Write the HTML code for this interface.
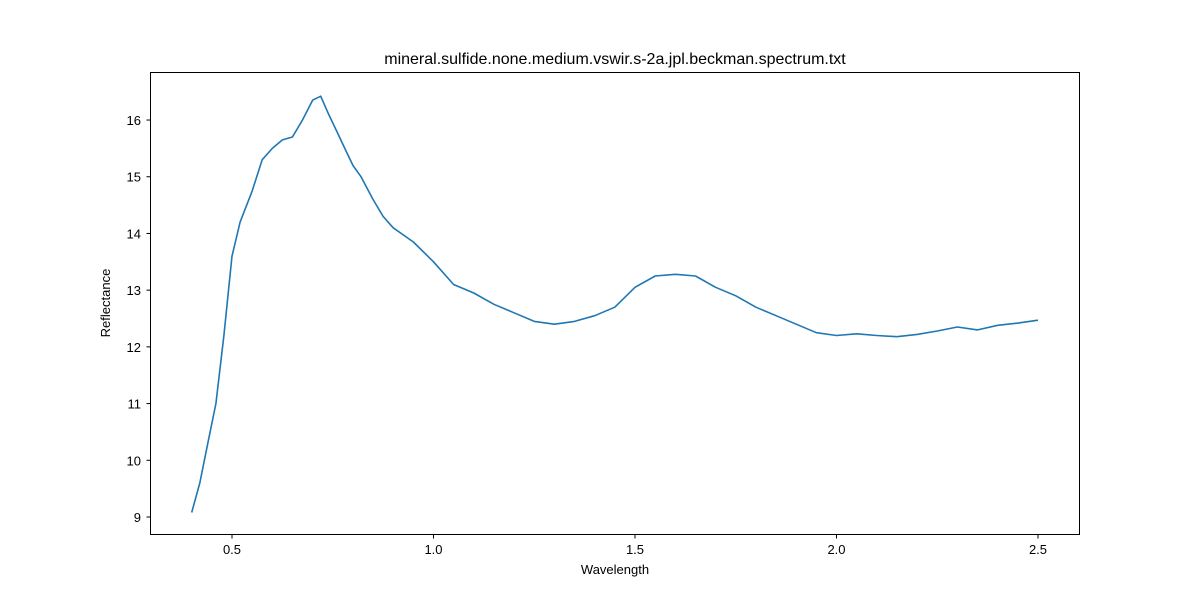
<!DOCTYPE html>
<html><head><meta charset="utf-8"><style>
body{margin:0;background:#fff;}
svg{display:block;font-family:"Liberation Sans","DejaVu Sans",sans-serif;}
</style></head><body>
<svg id="chart" width="1200" height="600">
<rect x="0" y="0" width="1200" height="600" fill="#fff"/>
<text x="615" y="64" text-anchor="middle" font-size="16">mineral.sulfide.none.medium.vswir.s-2a.jpl.beckman.spectrum.txt</text>
<g id="ticks"></g>
<path id="line" fill="none" stroke="#1f77b4" stroke-width="1.6" stroke-linejoin="round"/>
<rect x="150.5" y="72.5" width="929" height="462" fill="none" stroke="#000" stroke-width="1"/>
<text x="615" y="574" text-anchor="middle" font-size="13">Wavelength</text>
<text x="110" y="303" text-anchor="middle" font-size="13" transform="rotate(-90 110 303)">Reflectance</text>
</svg>
<script>
const wavelengths=[0.40,0.42,0.44,0.46,0.48,0.50,0.52,0.55,0.575,0.60,0.625,0.65,0.675,0.70,0.72,0.74,0.76,0.78,0.80,0.82,0.85,0.875,0.90,0.95,1.00,1.05,1.10,1.15,1.20,1.25,1.30,1.35,1.40,1.45,1.50,1.55,1.60,1.65,1.70,1.75,1.80,1.85,1.90,1.95,2.00,2.05,2.10,2.15,2.20,2.25,2.30,2.35,2.40,2.45,2.50];
const reflectance=[9.08,9.6,10.3,11.0,12.2,13.6,14.2,14.75,15.3,15.5,15.65,15.7,16.0,16.35,16.42,16.1,15.8,15.5,15.2,15.0,14.6,14.3,14.1,13.85,13.5,13.1,12.95,12.75,12.6,12.45,12.4,12.45,12.55,12.7,13.05,13.25,13.28,13.25,13.05,12.9,12.7,12.55,12.4,12.25,12.2,12.23,12.2,12.18,12.22,12.28,12.35,12.3,12.38,12.42,12.47];
const xTicks=[0.5,1.0,1.5,2.0,2.5];
const xTickLabels=["0.5","1.0","1.5","2.0","2.5"];
const yTicks=[9,10,11,12,13,14,15,16];
const yTickLabels=["9","10","11","12","13","14","15","16"];
function xs(v){return 232+(v-0.5)*403;}
function ys(v){return 517-(v-9)*56.71;}
const NS="http://www.w3.org/2000/svg";
const g=document.getElementById('ticks');
function mk(t,a){const e=document.createElementNS(NS,t);for(const k in a)e.setAttribute(k,a[k]);return e;}
xTicks.forEach((v,i)=>{
 const x=xs(v);
 const l=mk('line',{x1:x,x2:x,y1:534.5,y2:538.5,stroke:'#000'});
 
 
 g.appendChild(l);
 const t=mk('text',{x:x,y:554,'text-anchor':'middle','font-size':13});
 
 
 t.textContent=xTickLabels[i];g.appendChild(t);
});
yTicks.forEach((v,i)=>{
 const y=ys(v);
 const l=mk('line',{x1:146.5,x2:150.5,y1:y,y2:y,stroke:'#000'});
 
 
 g.appendChild(l);
 const t=mk('text',{x:141,y:y+5,'text-anchor':'end','font-size':13});
 
 
 t.textContent=yTickLabels[i];g.appendChild(t);
});
document.getElementById('line').setAttribute('d',wavelengths.map((w,i)=>(i?'L':'M')+xs(w).toFixed(1)+','+ys(reflectance[i]).toFixed(1)).join(''));
</script>
</body></html>
